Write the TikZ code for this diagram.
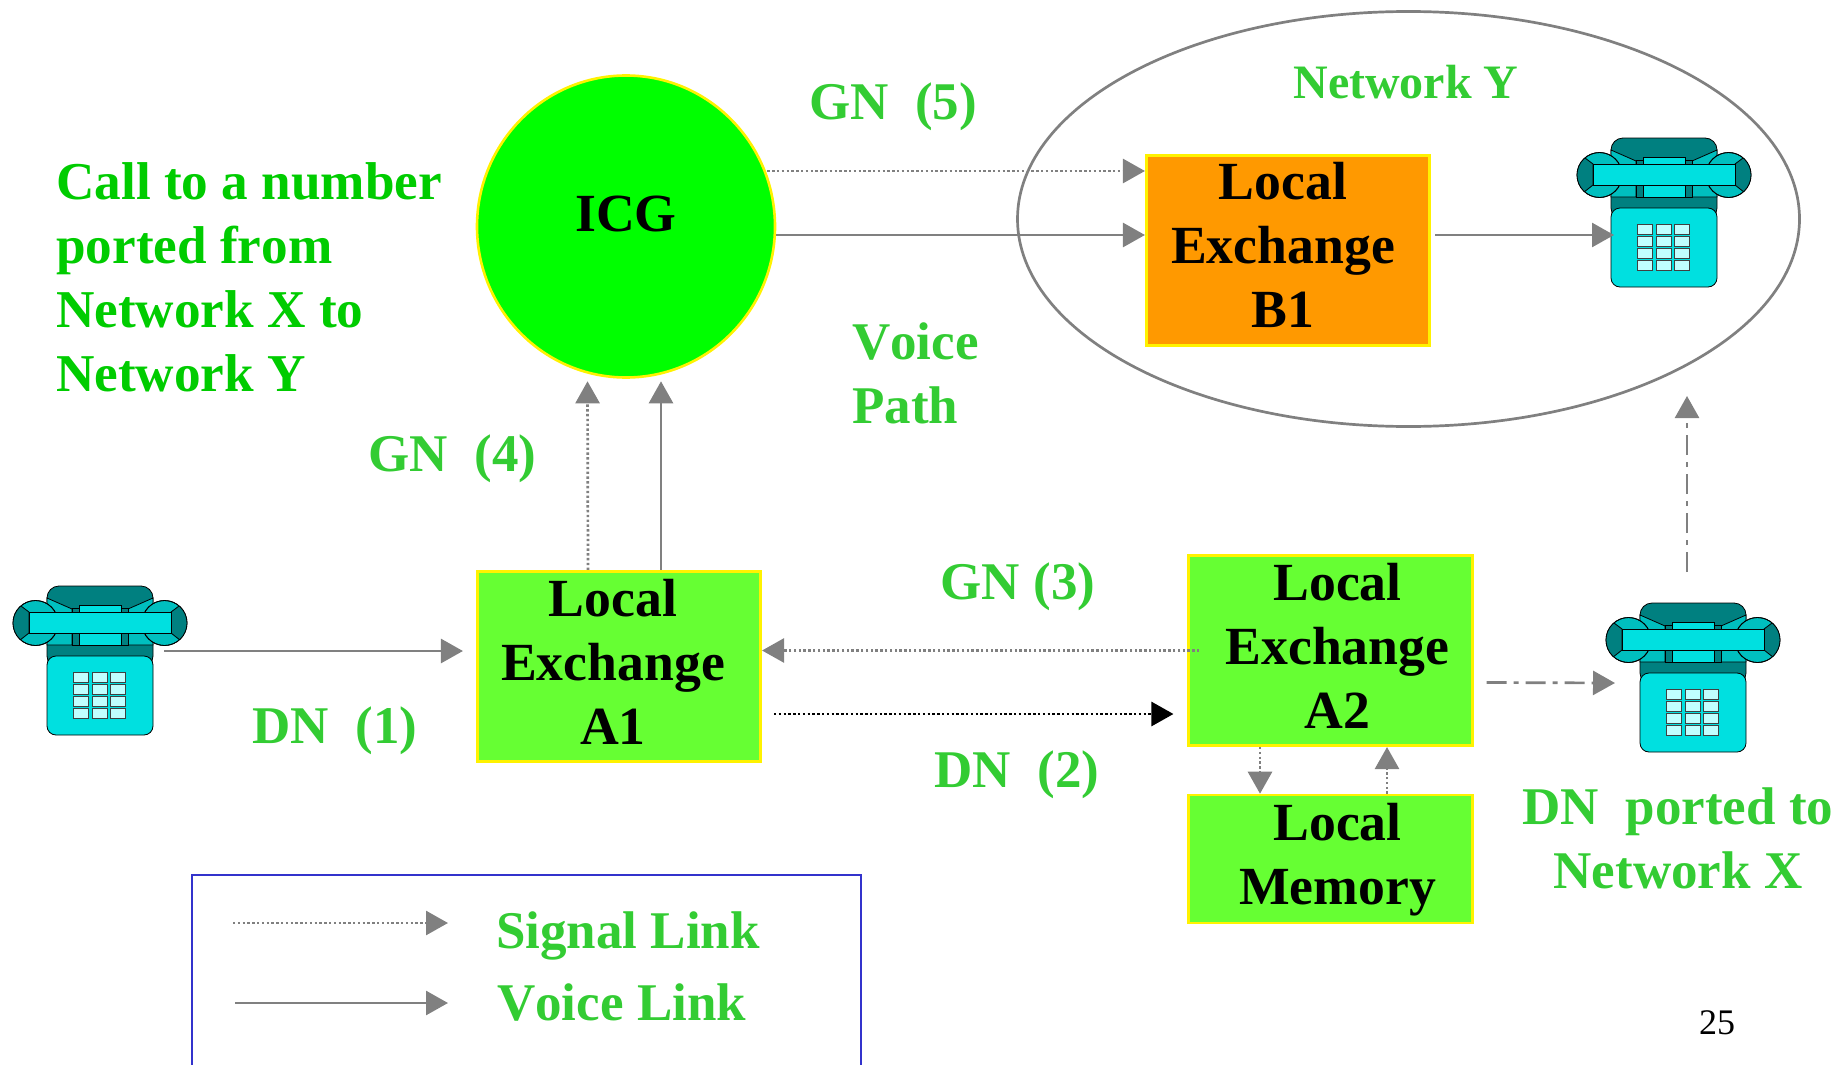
\documentclass[tikz,border=0pt]{standalone}
\usepackage{fontspec}
\setmainfont[Kerning=Off]{Liberation Serif}
\usetikzlibrary{shapes.geometric, arrows.meta}
\definecolor{tealdark}{RGB}{0,128,128}
\definecolor{tealmid}{RGB}{0,191,191}
\definecolor{phonecyan}{RGB}{0,224,224}
\definecolor{phonekey}{RGB}{192,255,255}
\definecolor{boxgreen}{RGB}{102,255,51}
\definecolor{boxorange}{RGB}{255,153,0}
\definecolor{labelgreen}{RGB}{51,204,51}
\definecolor{titlegreen}{RGB}{0,204,0}
\definecolor{legendblue}{RGB}{51,51,204}
\tikzset{pics/phone/.style={code={
  \draw[black,line width=.8pt,fill=tealdark,rounded corners=12pt] (-53,0) rectangle (53,82);
  \foreach \s in {-1,1} {
    \draw[black,line width=.8pt,fill=tealmid] (\s*53,12) -- (\s*28,23) -- (\s*28,59) -- (\s*53,59) -- cycle;
    \draw[black,line width=.8pt,fill=tealdark] (\s*28,22) rectangle (\s*21,59);
  }
  \draw[black,line width=.8pt,fill=phonecyan] (-21,19) rectangle (21,59);
  \foreach \s in {-1,1} {
    \draw[black,line width=.8pt,fill=tealmid] (\s*64.5,37) circle (22.5pt);
    \begin{scope}
      \clip (\s*64.5,37) circle (22.5pt);
      \draw[black,line width=.8pt,fill=tealdark] (\s*71,26) -- (\s*95,8) -- (\s*95,66) -- (\s*71,47) -- cycle;
    \end{scope}
    \draw[black,line width=.8pt] (\s*64.5,37) circle (22.5pt);
  }
  \draw[black,line width=.8pt,fill=phonecyan] (-71,26) rectangle (71,47);
  \draw[black,line width=.8pt,fill=phonecyan,rounded corners=9pt] (-53,70) rectangle (53,149);
  \foreach \kx in {-27,-8,10} {
    \foreach \ky in {86,98,110,122} {
      \draw[black!75,line width=.9pt,fill=phonekey] (\kx,\ky) rectangle ++(15,10);
    }
  }
}}}
\begin{document}
\begin{tikzpicture}[x=1pt,y=-1pt,node distance=208.5pt]
  \tikzstyle{block}=[draw=yellow, rectangle, line width=2.6pt, inner sep=0pt, minimum width=283.5pt, minimum height=190.5pt, fill=boxgreen]
  \tikzstyle{boxtext}=[font=\fontsize{53.7}{64}\selectfont\bfseries, align=center, text=black, inner sep=0pt]
  \tikzstyle{tag}=[font=\fontsize{53}{64}\selectfont\bfseries, text=labelgreen, inner sep=0pt, anchor=base]
  \tikzstyle{tagleft}=[tag, anchor=base west]
  \tikzstyle{title}=[font=\fontsize{53.2}{64}\selectfont\bfseries, text=titlegreen, inner sep=0pt, anchor=base west]
  \tikzstyle{voice}=[draw=gray, line width=2.7pt, -{Triangle[length=22pt,width=24pt]}]
  \tikzstyle{signal}=[voice, dash pattern=on 2.4pt off 2.4pt]
  \tikzstyle{hop}=[voice, dash pattern=on 20pt off 7pt on 5pt off 7pt]
  \path[use as bounding box] (0,0) rectangle (1839,1065);

  \node[draw=gray, ellipse, line width=2.7pt, inner sep=0pt, minimum width=782pt, minimum height=415pt] (net) at (1408.5,219) {};
  \node[draw=yellow, ellipse, line width=2.6pt, inner sep=0pt, minimum width=298pt, minimum height=302pt, fill=green] (icg) at (626,226.5) {};
  \node[boxtext] (icgtext) at (626,214) {ICG};
  \node[block, fill=boxorange, label={[boxtext,xshift=-5pt,yshift=5.5pt]center:{Local\\Exchange\\B1}}] (b1) at (1288,250.5) {};
  \node[block, label={[boxtext,xshift=-6pt,yshift=4.5pt]center:{Local\\Exchange\\A1}}] (a1) at (619,666.5) {};
  \node[block, label={[boxtext,xshift=7pt,yshift=4.5pt]center:{Local\\Exchange\\A2}}] (a2) at (1330.5,650.5) {};
  \node[block, minimum height=128pt, label={[boxtext,xshift=7pt,yshift=-1pt]center:{Local\\Memory}}] (mem) [below of=a2] {};

  \coordinate (pha) at (100,586);
  \coordinate (phb) at (1664,138);
  \coordinate (phr) at (1693,603);
  \pic at (pha) {phone};
  \pic at (phb) {phone};
  \pic at (phr) {phone};

  \coordinate (b1v) at ([yshift=15.5pt]b1.west);
  \coordinate (b1s) at ([yshift=79.5pt]b1.west);
  \draw[signal] ([xshift=-9pt]icg.east |- b1s) -- (b1s);
  \draw[voice]  (icg.east |- b1v) -- (b1v);
  \draw[voice]  ([xshift=4pt]b1.east |- b1v) -- ([xshift=-50pt,yshift=-97pt]phb);
  \draw[signal] ([xshift=-31pt]a1.north) -- ([xshift=-38.5pt,yshift=-2.5pt]icg.south);
  \draw[voice]  ([xshift=42pt]a1.north) -- ([xshift=35pt,yshift=-2.5pt]icg.south);
  \draw[voice]  ([xshift=64pt,yshift=-65pt]pha) -- ([xshift=-13pt,yshift=15.5pt]a1.west);
  \draw[signal] ([xshift=12pt]a2.west) -- (a1.east |- a2.west);
  \draw[signal, draw=black, -{Triangle[length=22pt,width=24pt]}] ([xshift=12pt,yshift=-47.5pt]a1.east) -- ([xshift=-14pt,yshift=-63.5pt]a2.west);
  \draw[signal] ([xshift=-70.5pt]a2.south) -- ([xshift=-70.5pt]mem.north);
  \draw[signal] ([xshift=56.5pt]mem.north) -- ([xshift=56.5pt]a2.south);
  \draw[hop]    ([xshift=13pt,yshift=-32pt]a2.east) -- ([xshift=-78pt,yshift=-80pt]phr);
  \draw[hop]    ([xshift=-6pt,yshift=31pt]phr) -- ([xshift=-6pt,yshift=207pt]phr);

  \node[title] (call1) at (56,199) {Call to a number};
  \node[title] (call2) at (56,263) {ported from};
  \node[title] (call3) at (56,327) {Network X to};
  \node[title] (call4) at (56,391) {Network Y};
  \node[tag] (gn5) at (893,119) {GN\ \ (5)};
  \node[tag, font=\fontsize{48}{64}\selectfont\bfseries] (nety) at (1406,99) {Network Y};
  \node[tagleft] (voice1) at (852,359) {Voice};
  \node[tagleft] (voice2) at (852,423) {Path};
  \node[tag] (gn4) at (452.5,471) {GN\ \ (4)};
  \node[tag] (gn3) at (1018,599) {GN (3)};
  \node[tag] (dn1) at (335,743) {DN\ \ (1)};
  \node[tag] (dn2) at (1017,787) {DN\ \ (2)};
  \node[tag] (dnp1) at (1678,824) {DN\ \ ported to};
  \node[tag] (dnp2) at (1678,888) {Network X};

  \draw[draw=legendblue, line width=2.6pt] (192,1065) |- (861,875) -- (861,1065);
  \coordinate (sig0) at (233,923);
  \coordinate (sig1) at (448,923);
  \coordinate (voi0) at (235,1003);
  \coordinate (voi1) at (448,1003);
  \draw[signal] (sig0) -- (sig1);
  \draw[voice]  (voi0) -- (voi1);
  \node[tagleft] (leg1) at (496,948) {Signal Link};
  \node[tagleft] (leg2) at (497,1020) {Voice Link};
  \node[font=\fontsize{36}{40}\selectfont, inner sep=0pt, anchor=base] (page) at (1717,1034) {25};
\end{tikzpicture}
\end{document}
